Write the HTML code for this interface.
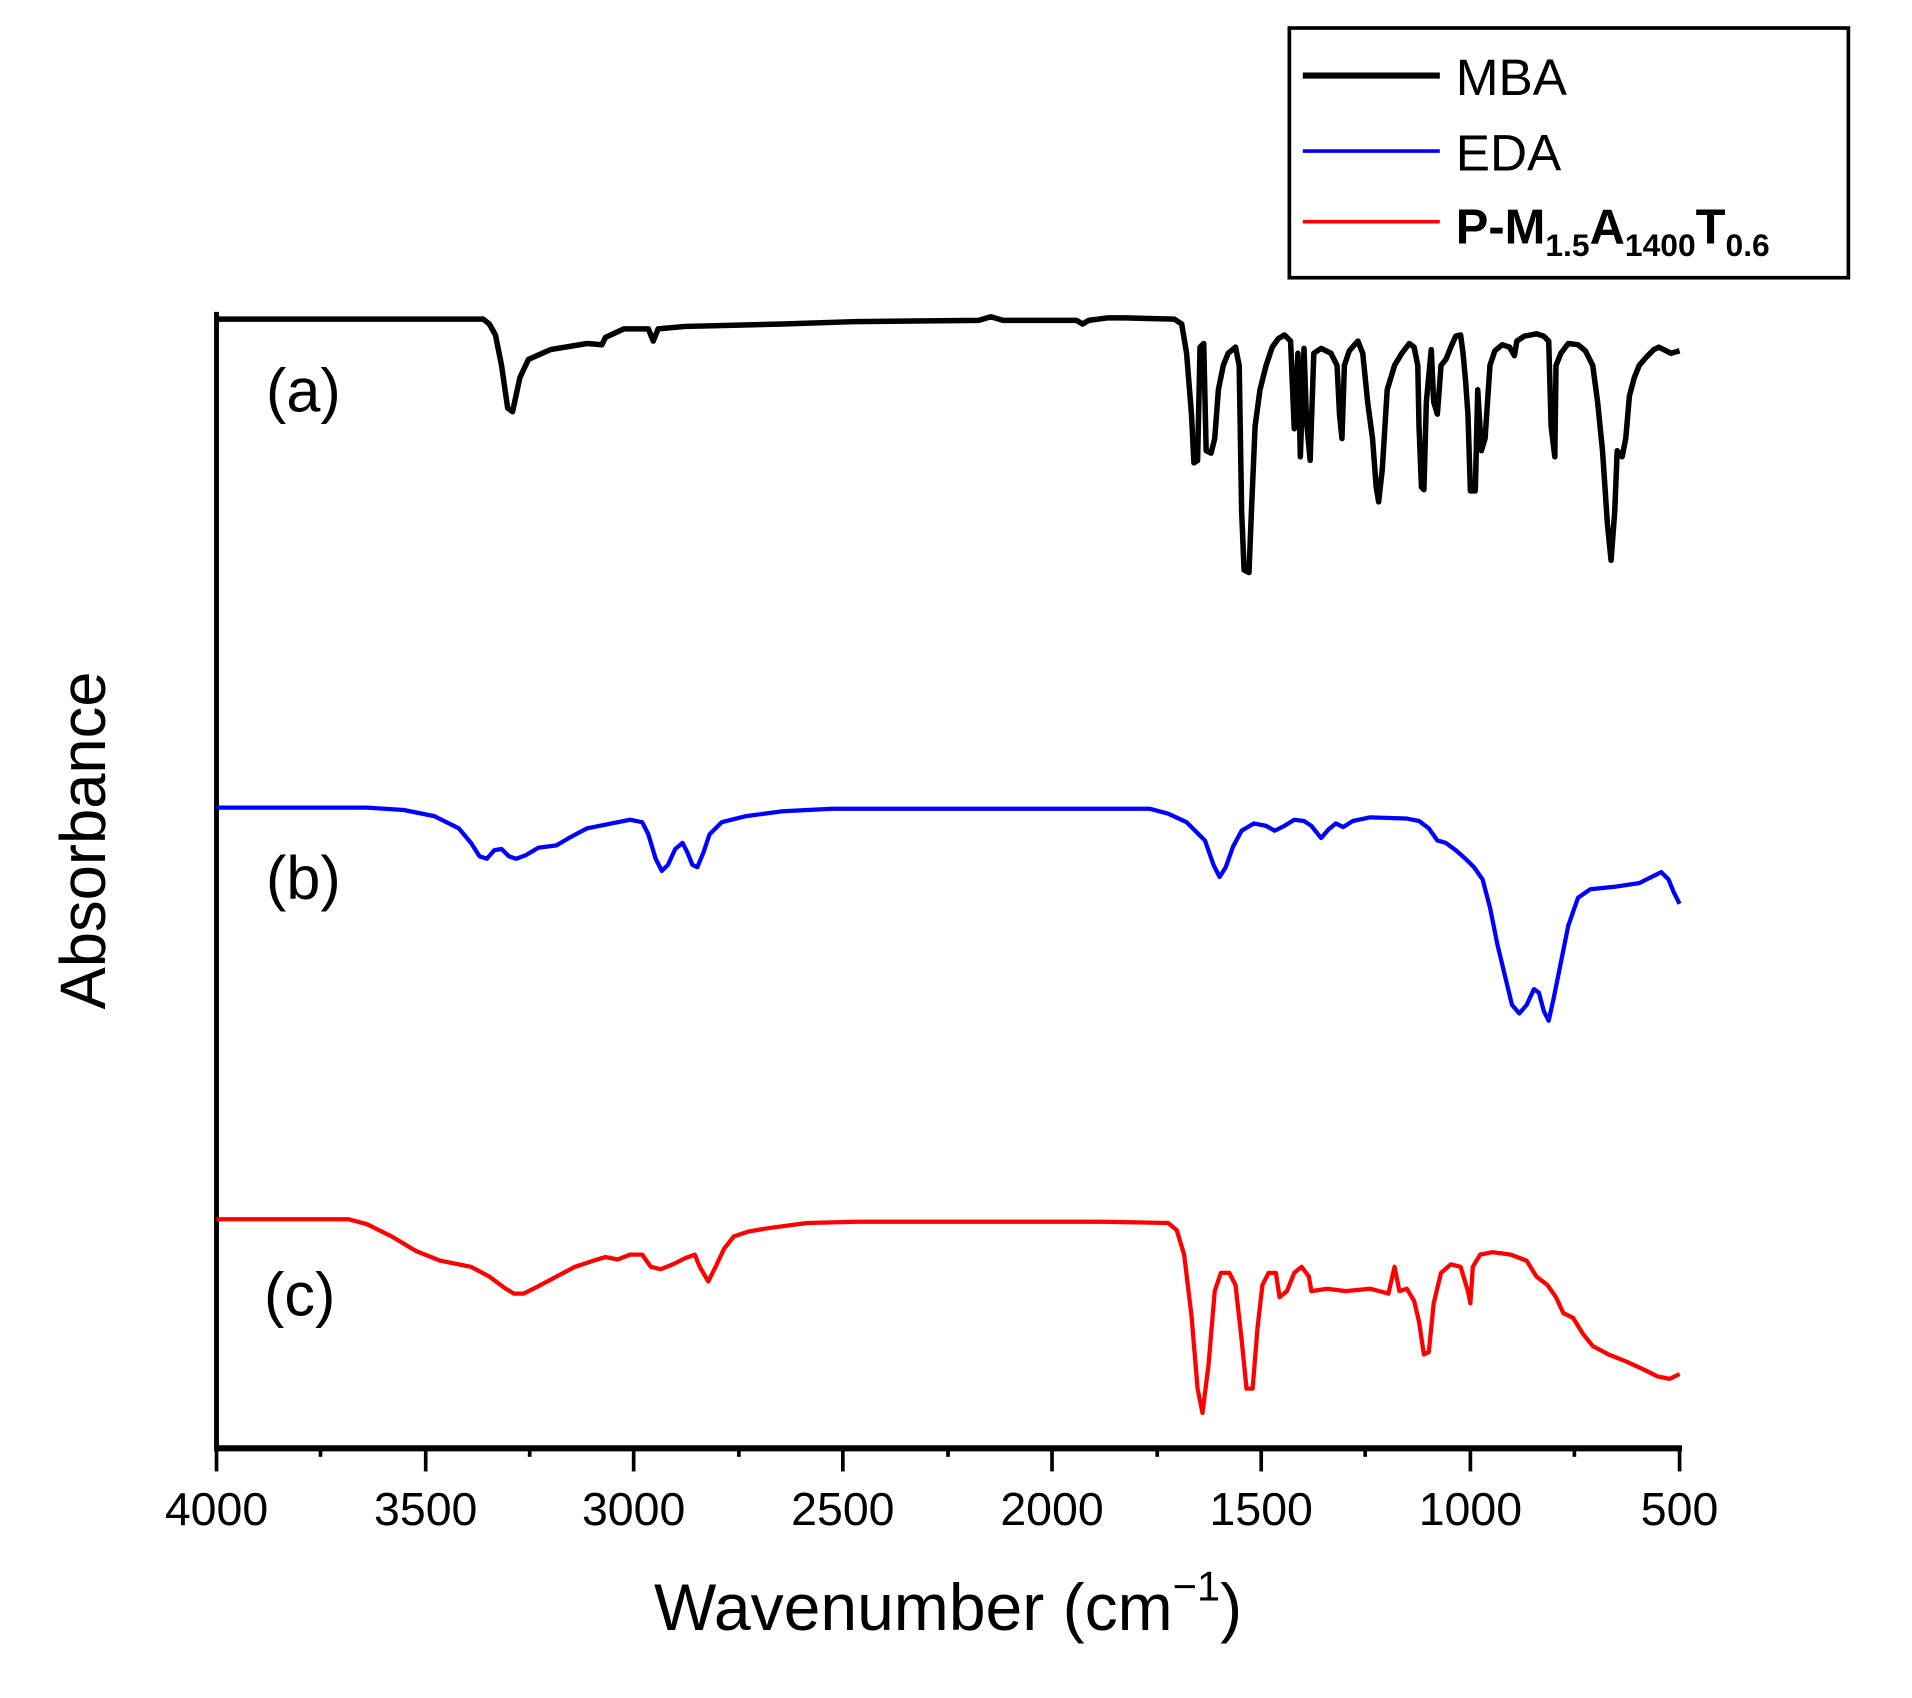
<!DOCTYPE html>
<html><head><meta charset="utf-8"><style>
html,body{margin:0;padding:0;background:#fff;}
svg{display:block;}
text{font-family:"Liberation Sans",Arial,sans-serif;fill:#000;}
</style></head><body>
<svg width="1912" height="1698" viewBox="0 0 1563 1394" preserveAspectRatio="none" xmlns="http://www.w3.org/2000/svg">
<rect x="0" y="0" width="1563" height="1394" fill="#fff"/>
<rect x="1054" y="23" width="457" height="205" fill="none" stroke="#000" stroke-width="3"/>
<line x1="1065" y1="62" x2="1177" y2="62" stroke="#000" stroke-width="5"/>
<line x1="1065" y1="124" x2="1177" y2="124" stroke="#0000ff" stroke-width="3"/>
<line x1="1065" y1="182" x2="1177" y2="182" stroke="#ff0000" stroke-width="3"/>
<text x="1190" y="78" font-size="42">MBA</text>
<text x="1190" y="140" font-size="42">EDA</text>
<text x="1190" y="200" font-size="40" font-weight="bold">P-M<tspan font-size="26" dy="10">1.5</tspan><tspan dy="-10">A</tspan><tspan font-size="26" dy="10">1400</tspan><tspan dy="-10">T</tspan><tspan font-size="26" dy="10">0.6</tspan></text>
<line x1="177" y1="256" x2="177" y2="1191" stroke="#000" stroke-width="4"/>
<line x1="175" y1="1189" x2="1375" y2="1189" stroke="#000" stroke-width="5"/>
<g stroke="#000" stroke-width="3">
<line x1="177" y1="1189" x2="177" y2="1208"/><line x1="348" y1="1189" x2="348" y2="1208"/><line x1="518" y1="1189" x2="518" y2="1208"/><line x1="689" y1="1189" x2="689" y2="1208"/><line x1="860" y1="1189" x2="860" y2="1208"/><line x1="1031" y1="1189" x2="1031" y2="1208"/><line x1="1202" y1="1189" x2="1202" y2="1208"/><line x1="1373" y1="1189" x2="1373" y2="1208"/>
<line x1="262" y1="1189" x2="262" y2="1196"/><line x1="433" y1="1189" x2="433" y2="1196"/><line x1="604" y1="1189" x2="604" y2="1196"/><line x1="775" y1="1189" x2="775" y2="1196"/><line x1="946" y1="1189" x2="946" y2="1196"/><line x1="1116" y1="1189" x2="1116" y2="1196"/><line x1="1287" y1="1189" x2="1287" y2="1196"/>
</g>
<g font-size="38" text-anchor="middle">
<text x="177" y="1252">4000</text><text x="348" y="1252">3500</text><text x="518" y="1252">3000</text><text x="689" y="1252">2500</text><text x="860" y="1252">2000</text><text x="1031" y="1252">1500</text><text x="1202" y="1252">1000</text><text x="1373" y="1252">500</text>
</g>
<text x="775" y="1338" font-size="54" text-anchor="middle">Wavenumber (cm<tspan font-size="34" dy="-24">−1</tspan><tspan dy="24">)</tspan></text>
<text transform="translate(86,690) rotate(-90)" font-size="52" text-anchor="middle">Absorbance</text>
<text x="248" y="338" font-size="50" text-anchor="middle">(a)</text>
<text x="248" y="738" font-size="50" text-anchor="middle">(b)</text>
<text x="245" y="1080" font-size="50" text-anchor="middle">(c)</text>
<polyline fill="none" stroke="#000" stroke-width="4.5" stroke-linejoin="round" points="177,262 395,262 400,266 405,275 410,300 415,335 419,338 425,310 432,295 450,287 480,282 492,283 495,277 510,270 530,270 534,280 538,270 560,268 600,267 640,266 700,264 800,263 810,260 820,263 880,263 885,266 890,263 905,261 920,261 960,262 966,266 970,290 974,340 976,380 979,378 981,285 984,282 986,370 990,372 993,360 996,320 1000,300 1004,290 1010,285 1013,300 1015,420 1017,468 1021,470 1023,420 1026,350 1030,320 1035,300 1040,285 1045,278 1050,275 1055,280 1058,352 1061,290 1063,375 1066,286 1068,345 1071,378 1074,290 1080,286 1088,290 1093,300 1095,340 1097,360 1099,300 1103,288 1110,280 1114,290 1118,330 1122,360 1125,400 1127,412 1130,385 1134,320 1140,300 1146,290 1152,282 1156,285 1159,300 1160,350 1162,400 1164,402 1166,330 1170,287 1172,330 1175,340 1178,300 1182,295 1186,285 1190,276 1194,275 1196,290 1198,312 1200,340 1202,403 1206,403 1208,320 1211,370 1214,360 1218,300 1222,288 1228,283 1234,285 1238,292 1240,280 1246,276 1256,274 1262,276 1266,280 1268,350 1271,375 1272,300 1276,290 1282,282 1290,283 1296,288 1302,300 1306,330 1310,370 1314,430 1317,460 1320,420 1322,370 1326,375 1329,360 1332,325 1336,310 1340,300 1346,293 1352,287 1356,285 1362,288 1366,290 1373,288"/>
<polyline fill="none" stroke="#0000ff" stroke-width="3.5" stroke-linejoin="round" points="177,663 300,663 330,665 355,670 375,680 385,692 392,703 398,705 404,698 410,697 416,703 422,705 430,702 440,696 455,694 465,688 480,680 500,676 515,673 525,675 530,685 536,705 541,715 546,710 552,697 558,692 562,700 566,710 570,712 575,700 580,685 590,675 610,670 640,666 680,664 900,664 940,664 955,668 970,675 985,690 992,710 997,720 1002,712 1008,695 1015,682 1025,676 1035,678 1042,682 1050,678 1058,673 1066,674 1072,678 1080,688 1086,681 1092,676 1098,679 1106,674 1120,671 1150,672 1160,674 1168,680 1175,690 1182,692 1190,698 1198,705 1205,712 1212,722 1218,745 1224,775 1230,800 1236,825 1242,832 1248,825 1254,812 1258,815 1262,830 1266,838 1270,820 1276,790 1282,760 1290,737 1300,730 1320,728 1340,725 1350,720 1358,716 1364,722 1368,732 1373,742"/>
<polyline fill="none" stroke="#ff0000" stroke-width="3.5" stroke-linejoin="round" points="177,1001 285,1001 300,1005 320,1015 340,1027 360,1035 385,1040 400,1048 412,1057 420,1062 428,1062 440,1056 455,1048 470,1040 485,1035 495,1032 505,1034 515,1030 525,1030 532,1040 540,1042 550,1038 560,1033 568,1030 572,1040 579,1052 585,1040 592,1025 600,1015 612,1011 630,1008 660,1004 700,1003 900,1003 955,1004 962,1010 968,1030 974,1080 979,1140 983,1160 988,1120 993,1060 998,1045 1005,1045 1010,1055 1015,1100 1019,1140 1024,1140 1028,1090 1032,1055 1037,1045 1043,1045 1046,1065 1052,1060 1058,1045 1064,1040 1070,1048 1072,1060 1085,1058 1100,1060 1120,1058 1135,1062 1140,1040 1144,1060 1150,1058 1156,1068 1160,1085 1164,1112 1168,1110 1172,1070 1178,1045 1186,1038 1194,1040 1200,1060 1202,1070 1204,1040 1210,1030 1220,1028 1235,1030 1248,1035 1256,1048 1265,1055 1272,1065 1278,1078 1286,1082 1294,1095 1302,1105 1315,1112 1330,1118 1345,1125 1355,1130 1365,1132 1373,1128"/>
</svg>
</body></html>
